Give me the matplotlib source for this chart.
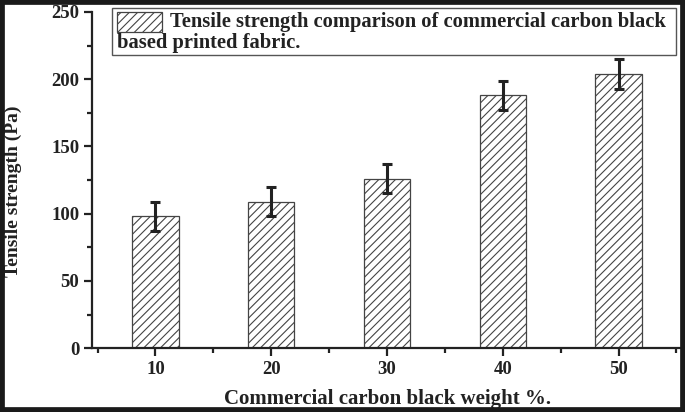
import matplotlib
matplotlib.use('Agg')
import matplotlib.pyplot as plt
from matplotlib.patches import Rectangle
from matplotlib.ticker import MultipleLocator

plt.rcParams['font.family'] = ['Liberation Serif', 'DejaVu Serif']
plt.rcParams['font.weight'] = 'bold'
plt.rcParams['hatch.linewidth'] = 0.8

weight_pct = [10, 20, 30, 40, 50]
tensile = [98, 109, 126, 188, 204]
tensile_err = [11, 11, 11, 11, 11]
legend_line1 = 'Tensile strength comparison of commercial carbon black'
legend_line2 = 'based printed fabric.'

INK = '#222222'
fig = plt.figure(figsize=(6.85, 4.12), dpi=100)
ax = fig.add_axes([0.134, 0.155, 0.862, 0.816])

ax.bar(weight_pct, tensile, width=4, color='white', edgecolor='#444444',
       linewidth=0.9, hatch='////', zorder=2)
ax.errorbar(weight_pct, tensile, yerr=tensile_err, fmt='none',
            ecolor=INK, elinewidth=2.2, capsize=3.6, capthick=2.2, zorder=3)

ax.set_xlim(4.5, 55.5)
ax.set_ylim(0, 250)
ax.xaxis.set_major_locator(MultipleLocator(10))
ax.xaxis.set_minor_locator(MultipleLocator(5))
ax.yaxis.set_major_locator(MultipleLocator(50))
ax.yaxis.set_minor_locator(MultipleLocator(25))

for s in ['top', 'right']:
    ax.spines[s].set_visible(False)
for s in ['left', 'bottom']:
    ax.spines[s].set_linewidth(1.6)
    ax.spines[s].set_color(INK)

ax.tick_params(which='major', direction='out', length=6, width=1.6,
               labelsize=13.5, colors=INK, pad=3)
ax.tick_params(which='minor', direction='out', length=3.5, width=1.6,
               colors=INK)

ax.set_xlabel('Commercial carbon black weight %.', fontsize=15,
              fontweight='bold', color=INK)
ax.xaxis.set_label_coords(0.50, -0.121)
ax.set_ylabel('Tensile strength (Pa)', fontsize=14, fontweight='bold',
              color=INK)
ax.yaxis.set_label_coords(-0.119, 0.467)

# legend box drawn by hand so the second line wraps under the swatch
ax.add_patch(Rectangle((0.034, 0.872), 0.956, 0.139, transform=ax.transAxes,
                       facecolor='white', edgecolor='#555555', linewidth=1.0,
                       clip_on=False, zorder=4))
ax.add_patch(Rectangle((0.042, 0.940), 0.077, 0.060, transform=ax.transAxes,
                       facecolor='white', edgecolor='#444444', linewidth=0.9,
                       hatch='////', clip_on=False, zorder=5))
ax.text(0.133, 0.955, legend_line1, transform=ax.transAxes, fontsize=14.8,
        fontweight='bold', color=INK, ha='left', va='baseline', zorder=5)
ax.text(0.043, 0.893, legend_line2, transform=ax.transAxes, fontsize=14.8,
        fontweight='bold', color=INK, ha='left', va='baseline', zorder=5)

fig.patches.append(Rectangle((0, 0), 1, 1, transform=fig.transFigure,
                             fill=False, edgecolor='#1a1a1a', linewidth=7))

fig.savefig('out.png', dpi=100)
